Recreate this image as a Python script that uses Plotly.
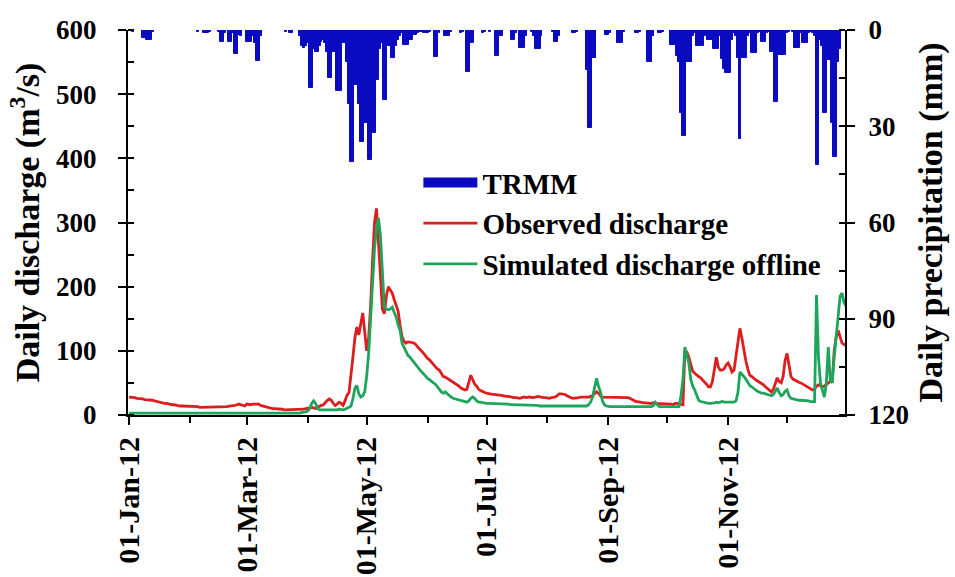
import pandas as pd
import plotly.graph_objects as go

dates = pd.date_range("2012-01-01", "2012-12-31", freq="D")

# Daily precipitation TRMM (mm), by month
p_jan = [0,0,0.5,0,0,0,0,2.5,2.5,3,3,3,0.5,0,0,0,0,0,0,0,0,0,0,0,0,0,0,0,0,0,0]
p_feb = [0,0,0,0,0.5,0,0,1,1,1,0.5,0,0,0,0,0.5,3.6,3.6,1,0,3.6,3.6,1,7.5,7.5,1.5,2,0,0]
p_mar = [3.6,3.6,3.6,2,4,9.6,9.6,2,0,0,0,0,0,0,0,0,0,0,0,0,0.5,0,1,1,0,0,0,2,5,5.5,5]
p_apr = [4,18,18,6,7,7,5,3.6,3,4,7,15,15,7,7,19,19,19,4,4,10,23,41,41,17,17,23,35,35,29]
p_may = [29,40.6,40.6,32,32,15.6,15.6,6,4,21.8,21.8,5,5,8.7,8.7,5,3,2,1,4.7,4.7,4.7,3,3,1.5,1.5,1,0.5,0.5,1,1]
p_jun = [1,0.5,0,0,8.4,8.4,1,0,0,2,2,2,0.5,0,0,0,0,1,0.5,0,13,13,4,4,0,0,0,0,1,0.5]
p_jul = [0,0,0.5,0,0,8,8,2,2,0,0,0,0,3,3,1,0,5.6,5.6,5.6,2,0,0,0.5,2,6,6,6,2,0,0]
p_aug = [0,0,0,0.5,3.7,3.7,2,0,0,0,0,0,0,1,1,0.5,0,0,0,0,12.5,30.6,30.6,8.7,8.7,0,0,0,0,0,1.5]
p_sep = [1.5,1,0,0,0,4,4,4,0.5,0,0,0,0,0,1,1,0.5,0,0,0,10,10,10,2,0,0,1,1,0.5,0]
p_oct = [0,0,4.7,4.7,4.7,8,10,26,33,33,10,10,10,2,1,5,5,5,5,2,1,3,3,3,6,6,6,2,9,12,13.5]
p_nov = [13.5,13.5,3,1,2,8.8,34,8.8,8.8,8.8,2,1,7.3,7.3,7.3,1,0.5,3.6,3.6,3.6,1,0.5,6.8,6.8,22.4,22.4,7.8,7.8,7.8,7.8]
p_dec = [1,0.5,0,0.5,5.6,5.6,5.6,1,4,4,4,1,0.5,1,2,42,42,3,5,26,26,9.3,9.3,29,39.5,39.5,10,6,0,0,0]

# Observed discharge (m3/s)
o_jan = [28,28,27,27,26,26,25,25,24,24,24,23,23,22,21,20,20,19,18,18,17,17,16,16,15,15,14,14,14,13,13]
o_feb = [13,13,13,13,13,12,12,12,12,12,13,13,13,13,13,13,13,13,13,13,14,14,14,15,16,17,16,15,14]
o_mar = [17,16,16,17,17,18,17,15,14,13,12,11,11,10,10,10,9,9,9,8,8,8,8,8,8,8,8,8,9,9,10]
o_apr = [10,11,12,11,10,12,14,15,16,20,23,25,23,18,15,17,20,18,15,22,31,35,60,90,120,137,125,140,159,130]
o_may = [100,120,170,240,300,322,270,210,165,158,185,200,195,190,180,170,162,140,122,115,112,114,114,113,112,110,106,103,100,96,92]
o_jun = [88,86,82,78,75,72,70,65,60,59,57,55,53,51,50,48,45,42,40,39,40,50,62,55,48,45,40,38,36,35]
o_jul = [34,33,33,32,32,31,31,31,30,30,29,29,28,28,27,27,26,26,27,28,27,28,28,27,27,28,29,28,27,27,27]
o_aug = [26,26,27,27,28,30,33,33,33,32,30,28,27,26,26,27,27,28,28,27,27,28,29,30,33,36,34,30,28,28,28]
o_sep = [28,28,28,28,28,28,28,28,28,28,27,26,24,22,21,21,20,20,19,19,18,18,18,19,18,18,18,17,17,17]
o_oct = [17,18,17,16,18,18,17,16,16,101,98,90,78,68,65,62,60,58,55,52,48,44,44,52,70,90,75,70,70,72,78]
o_nov = [81,75,67,70,90,115,135,120,101,85,72,62,60,57,55,53,51,50,47,44,41,38,36,40,50,58,52,50,60,85]
o_dec = [96,80,60,56,54,52,51,50,48,46,44,42,40,39,40,45,47,45,44,45,48,50,52,52,100,122,132,120,112,110,108]

# Simulated discharge offline (m3/s)
s_jan = [3,3,3,3,3,3,3,3,3,3,3,3,3,3,3,3,3,2,2,2,2,2,2,2,2,2,2,2,2,2,2]
s_feb = [2,2,2,2,2,2,2,2,2,2,2,2,2,2,2,2,2,2,2,2,2,2,2,2,2,2,2,2,2]
s_mar = [2,2,2,2,2,2,2,2,2,2,2,2,2,2,2,2,2,2,2,2,2,2,3,3,3,3,3,3,4,4,5]
s_apr = [6,10,18,22,18,10,8,8,7,7,7,8,8,8,7,8,9,8,8,9,10,12,14,25,42,46,33,28,30,36]
s_may = [60,96,150,210,260,290,307,280,230,168,165,164,165,168,160,153,140,132,112,105,98,93,90,86,82,78,75,70,67,64,60]
s_jun = [57,55,52,50,48,44,39,36,34,36,33,30,28,26,25,24,23,22,21,20,20,22,26,28,26,22,20,20,19,19]
s_jul = [18,18,18,18,18,18,18,17,17,17,17,17,16,16,16,16,16,16,16,16,16,15,15,15,15,15,15,14,14,14,13]
s_aug = [13,13,13,13,13,13,13,13,13,13,13,13,13,13,13,13,13,13,13,13,14,16,20,28,45,57,45,36,22,16,14]
s_sep = [13,13,13,13,13,13,13,13,13,13,13,13,13,13,13,13,13,13,13,13,13,13,13,15,20,16,13,13,13,13]
s_oct = [13,13,13,13,13,13,13,30,55,106,95,81,55,45,39,30,23,21,20,19,18,18,18,18,19,20,19,20,21,20,20]
s_nov = [20,20,20,20,22,35,67,64,60,56,50,46,44,41,39,37,35,34,34,33,32,31,30,32,38,42,35,30,32,37]
s_dec = [39,30,26,25,24,24,23,23,23,23,22,22,21,21,21,187,90,50,40,28,50,106,55,50,90,122,150,185,190,175,170]

precip = p_jan + p_feb + p_mar + p_apr + p_may + p_jun + p_jul + p_aug + p_sep + p_oct + p_nov + p_dec
observed = o_jan + o_feb + o_mar + o_apr + o_may + o_jun + o_jul + o_aug + o_sep + o_oct + o_nov + o_dec
simulated = s_jan + s_feb + s_mar + s_apr + s_may + s_jun + s_jul + s_aug + s_sep + s_oct + s_nov + s_dec

tick_dates = ["2012-01-01", "2012-03-01", "2012-05-01", "2012-07-01", "2012-09-01", "2012-11-01"]
tick_labels = ["01-Jan-12", "01-Mar-12", "01-May-12", "01-Jul-12", "01-Sep-12", "01-Nov-12"]
minor_dates = ["2012-02-01", "2012-04-01", "2012-06-01", "2012-08-01", "2012-10-01", "2012-12-01"]

FONT = "Liberation Serif"
BLUE = "#0A0AC0"
RED = "#DC1E1E"
GREEN = "#1EA55C"

fig = go.Figure()
fig.add_trace(go.Bar(x=dates, y=precip, name="TRMM", yaxis="y2", showlegend=False,
                     marker=dict(color=BLUE, line=dict(width=1, color=BLUE))))
# legend entry for the precipitation bars (wide rectangle key)
fig.add_trace(go.Scatter(x=[None], y=[None], name="TRMM", mode="lines",
                         line=dict(color=BLUE, width=16), legendgroup="a"))
fig.add_trace(go.Scatter(x=dates, y=observed, name="Observed discharge", mode="lines",
                         line=dict(color=RED, width=2.8), legendgroup="b"))
fig.add_trace(go.Scatter(x=dates, y=simulated, name="Simulated discharge offline", mode="lines",
                         line=dict(color=GREEN, width=2.8), legendgroup="c"))

fig.update_layout(
    width=955, height=577,
    margin=dict(l=128, r=110, t=30, b=162),
    plot_bgcolor="white", paper_bgcolor="white",
    font=dict(family=FONT, size=24, color="black", weight="bold"),
    bargap=0,
    showlegend=True,
    legend=dict(x=0.405, y=0.67, xanchor="left", yanchor="top",
                bgcolor="rgba(0,0,0,0)", font=dict(family=FONT, size=29, weight="bold"),
                tracegroupgap=9, itemwidth=54, traceorder="normal"),
    xaxis=dict(type="date", range=["2011-12-31 12:00", "2012-12-30 12:00"], automargin=False,
               tickmode="array", tickvals=tick_dates, ticktext=tick_labels, tickangle=-90,
               ticks="outside", ticklen=8, tickwidth=2, tickcolor="black",
               showline=True, linecolor="black", linewidth=2, showgrid=False, zeroline=False,
               tickfont=dict(family=FONT, size=30, weight="bold"),
               minor=dict(tickmode="array", tickvals=minor_dates, ticks="outside",
                          ticklen=6, tickwidth=2, tickcolor="black", showgrid=False)),
    yaxis=dict(range=[0, 600], dtick=100, ticks="outside", ticklen=8, tickwidth=2,
               tickcolor="black", showline=True, linecolor="black", linewidth=2,
               showgrid=False, zeroline=False, ticklabelstandoff=16, automargin=False,
               tickfont=dict(family=FONT, size=27, weight="bold"),
               title=dict(text="Daily discharge (m<sup>3</sup>/s)", standoff=6,
                          font=dict(family=FONT, size=34, weight="bold")),
               minor=dict(dtick=50, ticks="inside", ticklen=6, tickwidth=2,
                          tickcolor="black", showgrid=False)),
    yaxis2=dict(range=[120, 0], dtick=30, overlaying="y", side="right", anchor="x",
                ticks="outside", ticklen=8, tickwidth=2, tickcolor="black",
                showline=True, linecolor="black", linewidth=2, showgrid=False,
                zeroline=False, ticklabelstandoff=8, automargin=False,
                tickfont=dict(family=FONT, size=27, weight="bold"),
                title=dict(text="Daily precipitation (mm)", standoff=10,
                           font=dict(family=FONT, size=34, weight="bold")),
                minor=dict(dtick=15, ticks="inside", ticklen=6, tickwidth=2,
                           tickcolor="black", showgrid=False)),
)

fig.write_html("out.html")
